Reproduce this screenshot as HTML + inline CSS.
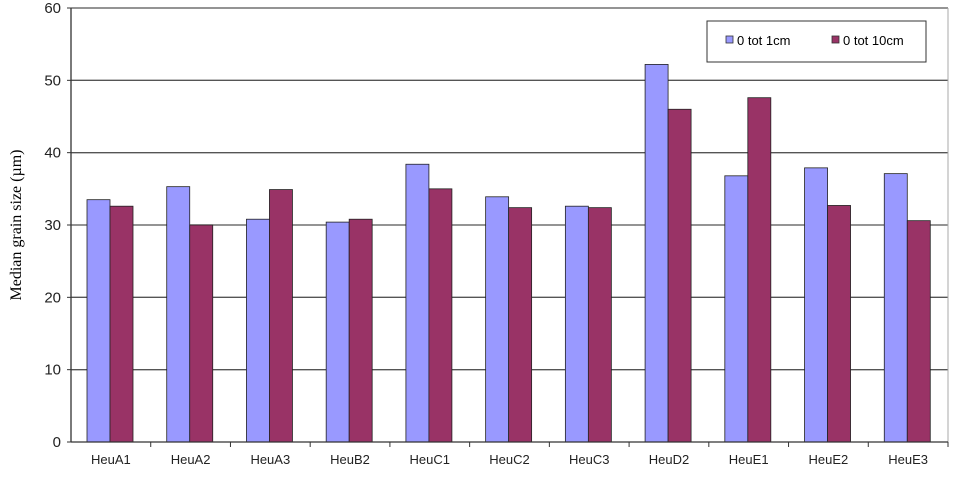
<!DOCTYPE html>
<html><head><meta charset="utf-8"><style>
body{margin:0;background:#fff;}
svg text{font-family:"Liberation Sans",sans-serif;}
</style></head><body>
<svg id="chart" width="956" height="479" xmlns="http://www.w3.org/2000/svg">
<g id="grid"></g><g id="bars"></g><g id="axes"></g>
<text transform="translate(21,225) rotate(-90)" text-anchor="middle" font-size="16" fill="#000" style="font-family:'Liberation Serif',serif">Median grain size (µm)</text>
<g>
<rect x="707" y="21" width="219" height="41" fill="#fff" stroke="#333" stroke-width="1"/>
<rect x="726" y="36" width="7" height="7" fill="#9999ff" stroke="#333" stroke-width="0.8"/>
<text x="737" y="45" font-size="13" fill="#000">0 tot 1cm</text>
<rect x="832" y="36" width="7" height="7" fill="#993366" stroke="#333" stroke-width="0.8"/>
<text x="843" y="45" font-size="13" fill="#000">0 tot 10cm</text>
</g>
</svg>
<script>
const categories=["HeuA1","HeuA2","HeuA3","HeuB2","HeuC1","HeuC2","HeuC3","HeuD2","HeuE1","HeuE2","HeuE3"];
const series1cm=[33.5,35.3,30.8,30.4,38.4,33.9,32.6,52.2,36.8,37.9,37.1];
const series10cm=[32.6,30.0,34.9,30.8,35.0,32.4,32.4,46.0,47.6,32.7,30.6];
const yTicks=[0,10,20,30,40,50,60];
const NS="http://www.w3.org/2000/svg";
const L=71,R=948,T=8,B=442,yMax=60;
const cw=(R-L)/categories.length;
function y(v){return B-(v/yMax)*(B-T);}
function x(i){return L+i*cw;}
function mk(tag,attrs,parent){const e=document.createElementNS(NS,tag);for(const k in attrs)e.setAttribute(k,attrs[k]);parent.appendChild(e);return e;}
const grid=document.getElementById('grid'),bars=document.getElementById('bars'),axes=document.getElementById('axes');
yTicks.forEach(t=>{
  if(t>0){const g=mk('line',{x1:L,x2:R,y1:y(t),y2:y(t),stroke:'#555','stroke-width':1.3},grid);
  
  }
  const tk=mk('line',{x1:L-4,x2:L,y1:y(t),y2:y(t),stroke:'#333'},axes);
  
  
  const lb=mk('text',{x:L-10,y:y(t)+5,'text-anchor':'end','font-size':15,fill:'#222'},axes);
  lb.textContent=t;
  
  
});
mk('line',{x1:R,x2:R,y1:T,y2:B,stroke:'#aaa'},grid);
const bw=23,off=16;
categories.forEach((c,i)=>{
  const b1=mk('rect',{x:x(i)+off,y:y(series1cm[i]),width:bw,height:B-y(series1cm[i]),fill:'#9999ff',stroke:'#222','stroke-width':0.8},bars);
  
  
  const b2=mk('rect',{x:x(i)+off+bw,y:y(series10cm[i]),width:bw,height:B-y(series10cm[i]),fill:'#993366',stroke:'#222','stroke-width':0.8},bars);
  
  
  const tk=mk('line',{x1:x(i+1),x2:x(i+1),y1:B,y2:B+5,stroke:'#333'},axes);
  
  
  const lb=mk('text',{x:x(i)+cw/2,y:B+22,'text-anchor':'middle','font-size':13,fill:'#222'},axes);
  lb.textContent=c;
  
  
});
const ya=mk('line',{x1:L,x2:L,y1:T,y2:B,stroke:'#333','stroke-width':1.3},axes);


const xa=mk('line',{x1:L,x2:R,y1:B,y2:B,stroke:'#333','stroke-width':1.3},axes);


</script>
</body></html>
